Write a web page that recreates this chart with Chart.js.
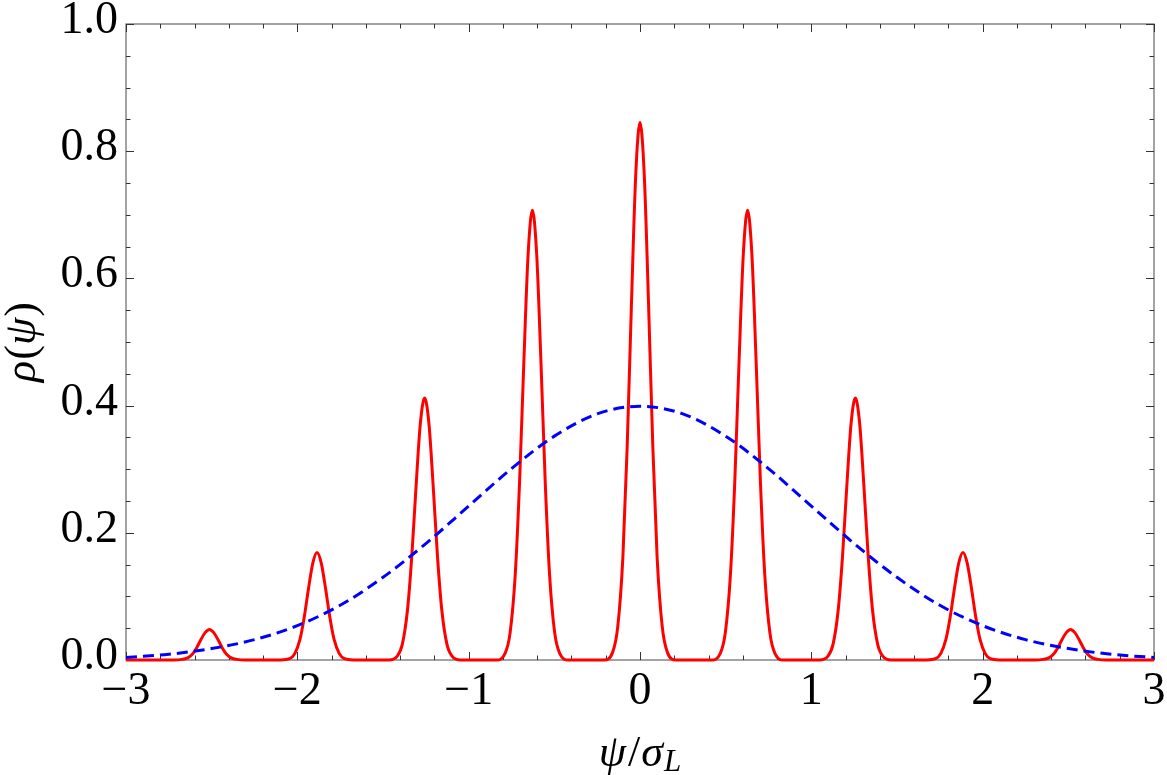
<!DOCTYPE html>
<html>
<head>
<meta charset="utf-8">
<script src="https://cdn.jsdelivr.net/npm/chart.js@4.4.1/dist/chart.umd.min.js"></script>
<style>
  html, body { margin: 0; padding: 0; background: #fff; }
  canvas { display: block; }
</style>
</head>
<body>
<canvas id="plot" width="1167" height="775"></canvas>
<script>
// --- Data ---
// red: comb of narrow peaks, one row per peak
const redX = [
  -3,
  -2.723, -2.673, -2.643, -2.613, -2.588, -2.563, -2.538, -2.513, -2.488, -2.463, -2.438, -2.413, -2.383, -2.353, -2.303,
  -2.095, -2.045, -2.015, -1.985, -1.960, -1.935, -1.910, -1.885, -1.860, -1.835, -1.810, -1.785, -1.755, -1.725, -1.675,
  -1.467, -1.417, -1.387, -1.357, -1.332, -1.307, -1.282, -1.257, -1.232, -1.207, -1.182, -1.157, -1.127, -1.097, -1.047,
  -0.838, -0.788, -0.758, -0.728, -0.703, -0.678, -0.653, -0.628, -0.603, -0.578, -0.553, -0.528, -0.498, -0.468, -0.418,
  -0.21, -0.16, -0.13, -0.1, -0.075, -0.05, -0.025, 0, 0.025, 0.05, 0.075, 0.1, 0.13, 0.16, 0.21,
  0.418, 0.468, 0.498, 0.528, 0.553, 0.578, 0.603, 0.628, 0.653, 0.678, 0.703, 0.728, 0.758, 0.788, 0.838,
  1.047, 1.097, 1.127, 1.157, 1.182, 1.207, 1.232, 1.257, 1.282, 1.307, 1.332, 1.357, 1.387, 1.417, 1.467,
  1.675, 1.725, 1.755, 1.785, 1.810, 1.835, 1.860, 1.885, 1.910, 1.935, 1.960, 1.985, 2.015, 2.045, 2.095,
  2.303, 2.353, 2.383, 2.413, 2.438, 2.463, 2.488, 2.513, 2.538, 2.563, 2.588, 2.613, 2.643, 2.673, 2.723,
  3
];
const redY = [
  0,
  0, 0.001, 0.003, 0.009, 0.019, 0.032, 0.043, 0.048, 0.043, 0.032, 0.019, 0.009, 0.003, 0.001, 0,
  0, 0.002, 0.010, 0.032, 0.067, 0.112, 0.152, 0.169, 0.152, 0.112, 0.067, 0.032, 0.010, 0.002, 0,
  0, 0.006, 0.025, 0.079, 0.163, 0.273, 0.372, 0.412, 0.372, 0.273, 0.163, 0.079, 0.025, 0.006, 0,
  0, 0.010, 0.043, 0.135, 0.279, 0.468, 0.638, 0.707, 0.638, 0.468, 0.279, 0.135, 0.043, 0.010, 0,
  0, 0.012, 0.052, 0.161, 0.334, 0.559, 0.762, 0.845, 0.762, 0.559, 0.334, 0.161, 0.052, 0.012, 0,
  0, 0.010, 0.043, 0.135, 0.279, 0.468, 0.638, 0.707, 0.638, 0.468, 0.279, 0.135, 0.043, 0.010, 0,
  0, 0.006, 0.025, 0.079, 0.163, 0.273, 0.372, 0.412, 0.372, 0.273, 0.163, 0.079, 0.025, 0.006, 0,
  0, 0.002, 0.010, 0.032, 0.067, 0.112, 0.152, 0.169, 0.152, 0.112, 0.067, 0.032, 0.010, 0.002, 0,
  0, 0.001, 0.003, 0.009, 0.019, 0.032, 0.043, 0.048, 0.043, 0.032, 0.019, 0.009, 0.003, 0.001, 0,
  0
];
// blue dashed envelope
const blueX = [-3, -2.75, -2.5, -2.25, -2, -1.75, -1.5, -1.25, -1, -0.75, -0.5, -0.25, 0,
               0.25, 0.5, 0.75, 1, 1.25, 1.5, 1.75, 2, 2.25, 2.5, 2.75, 3];
const blueY = [0.004, 0.009, 0.018, 0.032, 0.054, 0.086, 0.130, 0.183, 0.242, 0.301, 0.352, 0.387, 0.399,
               0.387, 0.352, 0.301, 0.242, 0.183, 0.130, 0.086, 0.054, 0.032, 0.018, 0.009, 0.004];

const xTicks = [-3, -2, -1, 0, 1, 2, 3];
const yTicks = [0, 0.2, 0.4, 0.6, 0.8, 1.0];

const SERIF = "'Liberation Serif', 'DejaVu Serif', serif";

// --- Frame with inward ticks on all four sides ---
const framePlugin = {
  id: 'frame',
  beforeDatasetsDraw(chart) {
    const { ctx, chartArea: a, scales } = chart;
    ctx.save();
    ctx.strokeStyle = '#666';
    ctx.lineWidth = 1.2;
    ctx.strokeRect(a.left, a.top, a.right - a.left, a.bottom - a.top);
    ctx.strokeStyle = '#333';
    ctx.lineWidth = 1;
    ctx.beginPath();
    for (let i = 0; i <= 30; i++) {
      const px = Math.round(scales.x.getPixelForValue(-3 + i * 0.2)) + 0.5;
      const len = i % 5 === 0 ? 8 : 4.5;
      ctx.moveTo(px, a.bottom); ctx.lineTo(px, a.bottom - len);
      ctx.moveTo(px, a.top); ctx.lineTo(px, a.top + len);
    }
    for (let i = 0; i <= 20; i++) {
      const py = Math.round(scales.y.getPixelForValue(i * 0.05)) + 0.5;
      const len = i % 4 === 0 ? 8 : 4.5;
      ctx.moveTo(a.left, py); ctx.lineTo(a.left + len, py);
      ctx.moveTo(a.right, py); ctx.lineTo(a.right - len, py);
    }
    ctx.stroke();
    ctx.restore();
  }
};

// --- Axis titles with italic Greek and subscript ---
function drawParts(ctx, parts, cx, baseY) {
  let total = 0;
  parts.forEach(p => { ctx.font = p.font; p.w = ctx.measureText(p.t).width; total += p.w + (p.gap || 0); });
  let x = cx - total / 2;
  parts.forEach(p => {
    ctx.font = p.font;
    ctx.fillText(p.t, x, baseY + (p.dy || 0));
    x += p.w + (p.gap || 0);
  });
}

const titlePlugin = {
  id: 'titles',
  afterDraw(chart) {
    const { ctx, chartArea: a } = chart;
    ctx.save();
    ctx.fillStyle = '#000';
    ctx.textBaseline = 'alphabetic';
    ctx.textAlign = 'left';
    const it = 'italic 44px ' + SERIF;
    const up = '44px ' + SERIF;
    drawParts(ctx, [
      { t: 'ψ', font: it, gap: 2 },
      { t: '/', font: up, gap: 1 },
      { t: 'σ', font: it, gap: 1 },
      { t: 'L', font: 'italic 31px ' + SERIF, dy: 5 }
    ], (a.left + a.right) / 2, 766);

    ctx.translate(35, (a.top + a.bottom) / 2);
    ctx.rotate(-Math.PI / 2);
    drawParts(ctx, [
      { t: 'ρ', font: it, gap: 1 },
      { t: '(', font: up },
      { t: 'ψ', font: it, gap: 1 },
      { t: ')', font: up }
    ], 0, 0);
    ctx.restore();
  }
};

new Chart(document.getElementById('plot'), {
  type: 'line',
  data: {
    datasets: [
      {
        data: blueX.map((x, i) => ({ x, y: blueY[i] })),
        borderColor: '#0000ff',
        borderWidth: 3,
        borderDash: [11, 6],
        pointRadius: 0,
        cubicInterpolationMode: 'monotone',
        clip: false
      },
      {
        data: redX.map((x, i) => ({ x, y: redY[i] })),
        borderColor: '#ff0000',
        borderWidth: 3,
        pointRadius: 0,
        cubicInterpolationMode: 'monotone',
        clip: false
      }
    ]
  },
  options: {
    responsive: false,
    animation: false,
    devicePixelRatio: 1,
    layout: { padding: { top: 24, right: 13, left: 0, bottom: 0 } },
    plugins: { legend: { display: false }, tooltip: { enabled: false } },
    scales: {
      x: {
        type: 'linear',
        min: -3, max: 3,
        afterFit(scale) { scale.height = 115; scale.paddingLeft = 0; scale.paddingRight = 0; },
        afterBuildTicks(scale) { scale.ticks = xTicks.map(v => ({ value: v })); },
        grid: { display: false, drawTicks: false },
        border: { display: false },
        ticks: {
          padding: 4,
          color: '#000',
          font: { family: SERIF, size: 46 },
          maxRotation: 0,
          callback: v => String(v).replace('-', '\u2212')
        }
      },
      y: {
        type: 'linear',
        min: 0, max: 1,
        afterFit(scale) { scale.width = 126; scale.paddingTop = 0; scale.paddingBottom = 0; },
        afterBuildTicks(scale) { scale.ticks = yTicks.map(v => ({ value: v })); },
        grid: { display: false, drawTicks: false },
        border: { display: false },
        ticks: {
          padding: 8,
          labelOffset: -3,
          color: '#000',
          font: { family: SERIF, size: 46 },
          callback: v => Number(v).toFixed(1)
        }
      }
    }
  },
  plugins: [framePlugin, titlePlugin]
});
</script>
</body>
</html>
